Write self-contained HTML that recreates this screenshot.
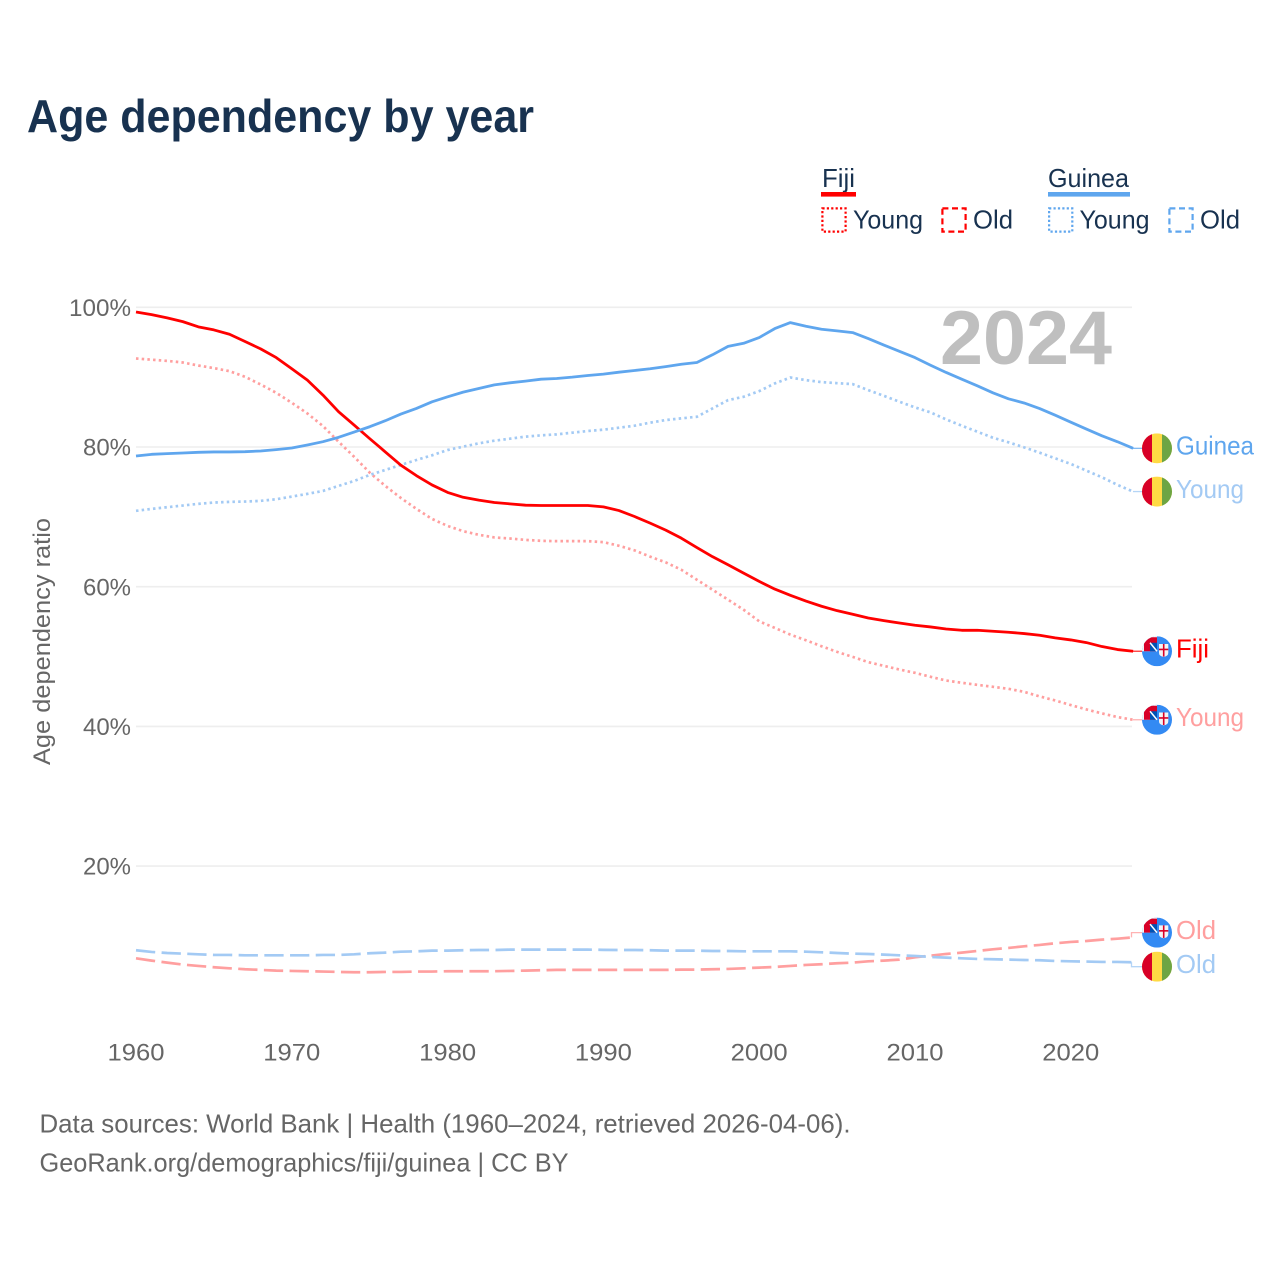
<!DOCTYPE html>
<html lang="en">
<head>
<meta charset="utf-8">
<title>Age dependency by year</title>
<style>
html,body{margin:0;padding:0;background:#fff;width:1280px;height:1280px;overflow:hidden}
svg{display:block}
text{font-family:"Liberation Sans",sans-serif}
</style>
</head>
<body>
<svg id="chart" xmlns="http://www.w3.org/2000/svg" width="1280" height="1280" viewBox="0 0 1280 1280">
  <defs>
    <clipPath id="flag-clip"><circle cx="0" cy="0" r="15"/></clipPath>
    <g id="flag-guinea" clip-path="url(#flag-clip)">
      <rect x="-15" y="-15" width="30" height="30" fill="#ffda44"/>
      <rect x="-15" y="-15" width="10" height="30" fill="#d80027"/>
      <rect x="5" y="-15" width="10" height="30" fill="#6da544"/>
    </g>
    <g id="flag-fiji" clip-path="url(#flag-clip)">
      <rect x="-15" y="-15" width="30" height="30" fill="#338af3"/>
      <rect x="-15" y="-15" width="15" height="15" fill="#f4f4f4"/>
      <path d="M-13 0V-10Q-13 -14 -9 -14H0V0Z" fill="#d80027"/>
      <rect x="-7" y="-8.5" width="7" height="8.5" fill="#0052b4"/>
      <path d="M-7 -8.5L0 0" stroke="#ffffff" stroke-width="1.5" fill="none"/>
      <path d="M2 -7.3H11.3V1.5Q11.3 5 6.6 5.6Q2 5 2 1.5Z" fill="#f4f4f4"/>
      <rect x="2" y="-2.6" width="9.3" height="1.6" fill="#d80027"/>
      <rect x="5.9" y="-7.3" width="1.6" height="12.6" fill="#d80027"/>
    </g>
  </defs>

  <text x="27" y="132" font-size="46" font-weight="700" fill="#183250" textLength="507" lengthAdjust="spacingAndGlyphs">Age dependency by year</text>

  <g>
    <g>
      <text x="822" y="187" font-size="26" fill="#183250" textLength="33" lengthAdjust="spacingAndGlyphs">Fiji</text>
      <rect x="821" y="192" width="35" height="4.6" fill="#ff0000"/>
      <rect x="822.4" y="208.4" width="23.2" height="23.2" fill="none" stroke="#ff0000" stroke-width="2.2" stroke-dasharray="2.2 2.2"/>
      <text x="853" y="228.5" font-size="26" fill="#183250" textLength="70" lengthAdjust="spacingAndGlyphs">Young</text>
      <rect x="942.4" y="208.4" width="23.2" height="23.2" fill="none" stroke="#ff0000" stroke-width="2.2" stroke-dasharray="6 3.6"/>
      <text x="973" y="228.5" font-size="26" fill="#183250" textLength="40" lengthAdjust="spacingAndGlyphs">Old</text>
    </g>
    <g>
      <text x="1048" y="187" font-size="26" fill="#183250" textLength="81" lengthAdjust="spacingAndGlyphs">Guinea</text>
      <rect x="1048" y="192" width="82" height="4.6" fill="#5fa6ee"/>
      <rect x="1049.1" y="208.4" width="23.2" height="23.2" fill="none" stroke="#5fa6ee" stroke-width="2.2" stroke-dasharray="2.2 2.2"/>
      <text x="1079.5" y="228.5" font-size="26" fill="#183250" textLength="70" lengthAdjust="spacingAndGlyphs">Young</text>
      <rect x="1169.4" y="208.4" width="23.2" height="23.2" fill="none" stroke="#5fa6ee" stroke-width="2.2" stroke-dasharray="6 3.6"/>
      <text x="1200" y="228.5" font-size="26" fill="#183250" textLength="40" lengthAdjust="spacingAndGlyphs">Old</text>
    </g>
  </g>

  <g id="grid"></g>
  <text x="940" y="364" font-size="76" font-weight="700" fill="#bfbfbf" textLength="172" lengthAdjust="spacingAndGlyphs">2024</text>
  <g id="y-axis"></g>
  <g id="x-axis"></g>
  <text transform="translate(50,641.5) rotate(-90)" text-anchor="middle" font-size="24" fill="#666666" textLength="247" lengthAdjust="spacingAndGlyphs">Age dependency ratio</text>
  <g id="series"></g>
  <g id="end-labels"></g>

  <text x="39.5" y="1132.5" font-size="26" fill="#666666" textLength="811" lengthAdjust="spacingAndGlyphs">Data sources: World Bank | Health (1960–2024, retrieved 2026-04-06).</text>
  <text x="39.5" y="1171.5" font-size="26" fill="#666666" textLength="529" lengthAdjust="spacingAndGlyphs">GeoRank.org/demographics/fiji/guinea | CC BY</text>
</svg>

<script>
const startYear = 1960;
const yTicks = [20, 40, 60, 80, 100];
const xTicks = [1960, 1970, 1980, 1990, 2000, 2010, 2020];

const fijiTotal = [99.33,98.95,98.48,97.95,97.2,96.76,96.14,95.1,94.05,92.8,91.2,89.57,87.43,85.05,83.14,81.2,79.3,77.4,75.9,74.57,73.5,72.8,72.4,72.05,71.86,71.67,71.62,71.62,71.62,71.62,71.43,70.9,70.05,69.1,68.1,66.95,65.6,64.3,63.14,61.95,60.76,59.66,58.76,57.95,57.2,56.57,56.05,55.52,55.14,54.8,54.48,54.24,53.95,53.76,53.76,53.62,53.48,53.29,53.05,52.67,52.38,52.0,51.43,51.0,50.76];
const fijiYoung = [92.67,92.5,92.33,92.1,91.67,91.29,90.86,90.05,88.95,87.76,86.33,84.8,83.0,80.76,78.6,76.33,74.43,72.7,71.14,69.7,68.7,67.95,67.43,67.05,66.9,66.7,66.57,66.52,66.52,66.52,66.38,65.86,65.2,64.3,63.48,62.43,61.0,59.57,58.14,56.7,55.05,54.1,53.14,52.33,51.48,50.67,49.95,49.2,48.67,48.14,47.67,47.1,46.57,46.24,45.95,45.67,45.38,44.95,44.29,43.71,43.05,42.43,41.86,41.33,40.95];
const fijiOld = [6.8,6.47,6.18,5.9,5.71,5.52,5.37,5.23,5.14,5.04,4.99,4.95,4.9,4.85,4.8,4.8,4.85,4.85,4.9,4.9,4.95,4.95,4.95,4.95,4.99,5.04,5.09,5.14,5.14,5.14,5.14,5.14,5.14,5.14,5.14,5.18,5.18,5.23,5.28,5.37,5.47,5.56,5.71,5.85,5.95,6.09,6.18,6.37,6.47,6.61,6.95,7.18,7.42,7.61,7.85,8.09,8.28,8.52,8.71,8.95,9.14,9.28,9.47,9.61,9.8];
const guineaTotal = [78.71,78.95,79.05,79.14,79.24,79.29,79.29,79.33,79.43,79.62,79.86,80.29,80.76,81.38,82.14,82.9,83.76,84.71,85.52,86.47,87.19,87.86,88.38,88.9,89.19,89.43,89.71,89.81,90.0,90.24,90.43,90.71,90.95,91.2,91.5,91.85,92.1,93.2,94.4,94.85,95.67,96.95,97.81,97.29,96.86,96.62,96.38,95.52,94.6,93.7,92.8,91.71,90.67,89.71,88.76,87.76,86.9,86.3,85.5,84.55,83.55,82.57,81.6,80.75,79.81];
const guineaYoung = [70.86,71.14,71.38,71.62,71.86,72.05,72.14,72.19,72.29,72.52,72.9,73.29,73.71,74.43,75.14,76.0,76.71,77.43,78.14,78.81,79.57,80.05,80.52,80.9,81.19,81.48,81.67,81.81,82.05,82.29,82.48,82.76,83.05,83.48,83.86,84.1,84.33,85.52,86.71,87.19,88.0,89.1,89.95,89.57,89.29,89.14,89.0,88.14,87.33,86.48,85.67,84.95,83.95,83.05,82.19,81.33,80.67,79.95,79.19,78.38,77.57,76.62,75.67,74.57,73.62];
const guineaOld = [7.95,7.71,7.56,7.47,7.37,7.28,7.28,7.23,7.23,7.23,7.23,7.23,7.28,7.28,7.37,7.52,7.61,7.75,7.8,7.9,7.9,7.95,7.99,7.99,8.04,8.04,8.04,8.04,8.04,8.04,8.01,7.99,7.99,7.95,7.9,7.9,7.9,7.85,7.85,7.8,7.8,7.8,7.8,7.75,7.66,7.56,7.47,7.42,7.33,7.23,7.14,6.99,6.9,6.8,6.71,6.66,6.61,6.56,6.52,6.42,6.37,6.33,6.28,6.28,6.23];

const NS = 'http://www.w3.org/2000/svg';
function xScale(year) { return 136 + (year - startYear) * 15.58; }
function yScale(v) { return 1005.8 - v * 6.985; }
function make(tag, parent) {
  const el = document.createElementNS(NS, tag);
  parent.appendChild(el);
  return el;
}
function pathFrom(values) {
  return values.map(function (v, i) {
    return (i ? 'L' : 'M') + xScale(startYear + i).toFixed(2) + ' ' + yScale(v).toFixed(2);
  }).join('');
}

const gridG = document.getElementById('grid');
const yAxisG = document.getElementById('y-axis');
const xAxisG = document.getElementById('x-axis');
const seriesG = document.getElementById('series');
const labelsG = document.getElementById('end-labels');

yTicks.forEach(function (t) {
  const line = make('line', gridG);
  
  
  line.setAttribute('x1', 136);
  line.setAttribute('x2', 1132);
  line.setAttribute('y1', yScale(t));
  line.setAttribute('y2', yScale(t));
  line.setAttribute('stroke', '#eeeeee');
  line.setAttribute('stroke-width', 1.6);

  const label = make('text', yAxisG);
  
  
  label.setAttribute('x', 131);
  label.setAttribute('y', yScale(t) + 8.6);
  label.setAttribute('text-anchor', 'end');
  label.setAttribute('font-size', 24);
  label.setAttribute('fill', '#666666');
  label.setAttribute('textLength', String(t).length * 14 + 20);
  label.setAttribute('lengthAdjust', 'spacingAndGlyphs');
  label.textContent = t + '%';
});

xTicks.forEach(function (t) {
  const label = make('text', xAxisG);
  
  
  label.setAttribute('x', xScale(t));
  label.setAttribute('y', 1060.5);
  label.setAttribute('text-anchor', 'middle');
  label.setAttribute('font-size', 24);
  label.setAttribute('fill', '#666666');
  label.setAttribute('textLength', 57);
  label.setAttribute('lengthAdjust', 'spacingAndGlyphs');
  label.textContent = t;
});

function drawLine(values, color, dash, width, name) {
  const p = make('path', seriesG);
  
  
  p.setAttribute('d', pathFrom(values));
  p.setAttribute('fill', 'none');
  p.setAttribute('stroke', color);
  p.setAttribute('stroke-width', width);
  p.setAttribute('stroke-linejoin', 'round');
  if (dash) p.setAttribute('stroke-dasharray', dash);
}

const DOT = '2.5 3.2';
const DASH = '19.3 6.4';
drawLine(fijiOld, '#ff9f9f', DASH, 2.7, 'line-fiji-old');
drawLine(guineaOld, '#a3caf4', DASH, 2.7, 'line-guinea-old');
drawLine(fijiYoung, '#ff9f9f', DOT, 2.7, 'line-fiji-young');
drawLine(guineaYoung, '#a3caf4', DOT, 2.7, 'line-guinea-young');
drawLine(fijiTotal, '#ff0000', null, 2.8, 'line-fiji-total');
drawLine(guineaTotal, '#5fa6ee', null, 2.8, 'line-guinea-total');

function drawEnd(values, offset, flag, text, color, width, name) {
  const yEnd = yScale(values[values.length - 1]);
  const yFlag = yEnd + offset;

  const c = make('path', labelsG);
  
  
  c.setAttribute('d', offset ? 'M1131.5 ' + yEnd + 'V' + yFlag + 'H1143' : 'M1133 ' + yEnd + 'H1143');
  c.setAttribute('fill', 'none');
  c.setAttribute('stroke', color);
  c.setAttribute('stroke-width', 1.3);
  c.setAttribute('opacity', 0.8);

  const f = make('use', labelsG);
  
  
  f.setAttribute('href', '#' + flag);
  f.setAttribute('transform', 'translate(1157,' + yFlag + ')');

  const t = make('text', labelsG);
  
  
  t.setAttribute('x', 1176);
  t.setAttribute('y', yFlag + 6.2);
  t.setAttribute('font-size', 26);
  t.setAttribute('fill', color);
  t.setAttribute('textLength', width);
  t.setAttribute('lengthAdjust', 'spacingAndGlyphs');
  t.textContent = text;
}

drawEnd(guineaTotal, 0, 'flag-guinea', 'Guinea', '#5fa6ee', 78, 'end-guinea-total');
drawEnd(guineaYoung, 0, 'flag-guinea', 'Young', '#a3caf4', 68, 'end-guinea-young');
drawEnd(fijiTotal, 0, 'flag-fiji', 'Fiji', '#ff0000', 33, 'end-fiji-total');
drawEnd(fijiYoung, 0, 'flag-fiji', 'Young', '#ff9f9f', 68, 'end-fiji-young');
drawEnd(fijiOld, -4.7, 'flag-fiji', 'Old', '#ff9f9f', 40, 'end-fiji-old');
drawEnd(guineaOld, 4.4, 'flag-guinea', 'Old', '#a3caf4', 40, 'end-guinea-old');
</script>
</body>
</html>
